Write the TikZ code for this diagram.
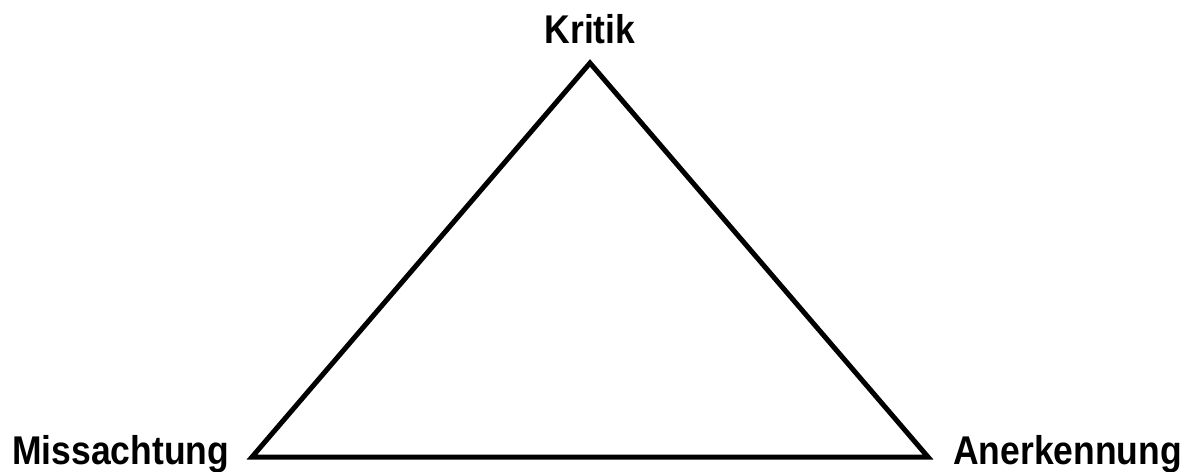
\documentclass[tikz,border=0pt]{standalone}
\usepackage{fontspec}
\setmainfont{Liberation Sans}
\begin{document}
\begin{tikzpicture}[x=1pt,y=-1pt,
  lbl/.style={inner sep=0pt,font=\fontsize{35.5}{40}\selectfont\bfseries},
  edge/.style={line width=5pt,line join=miter}]
\useasboundingbox (0,0) rectangle (1190,471);
\coordinate (top) at (590,63);
\coordinate (bl) at (252,457);
\coordinate (br) at (928,457);
\draw[edge] (top) -- (bl) -- (br) -- cycle;
\node[lbl,anchor=base] (kritik) at (590,43) {\scalebox{1}[1.13]{Kritik}};
\node[lbl,anchor=base west] (miss) at (12,464) {\scalebox{1}[1.13]{Missachtung}};
\node[lbl,anchor=base west] (aner) at (953,464) {\scalebox{1}[1.13]{Anerkennung}};
\end{tikzpicture}
\end{document}
